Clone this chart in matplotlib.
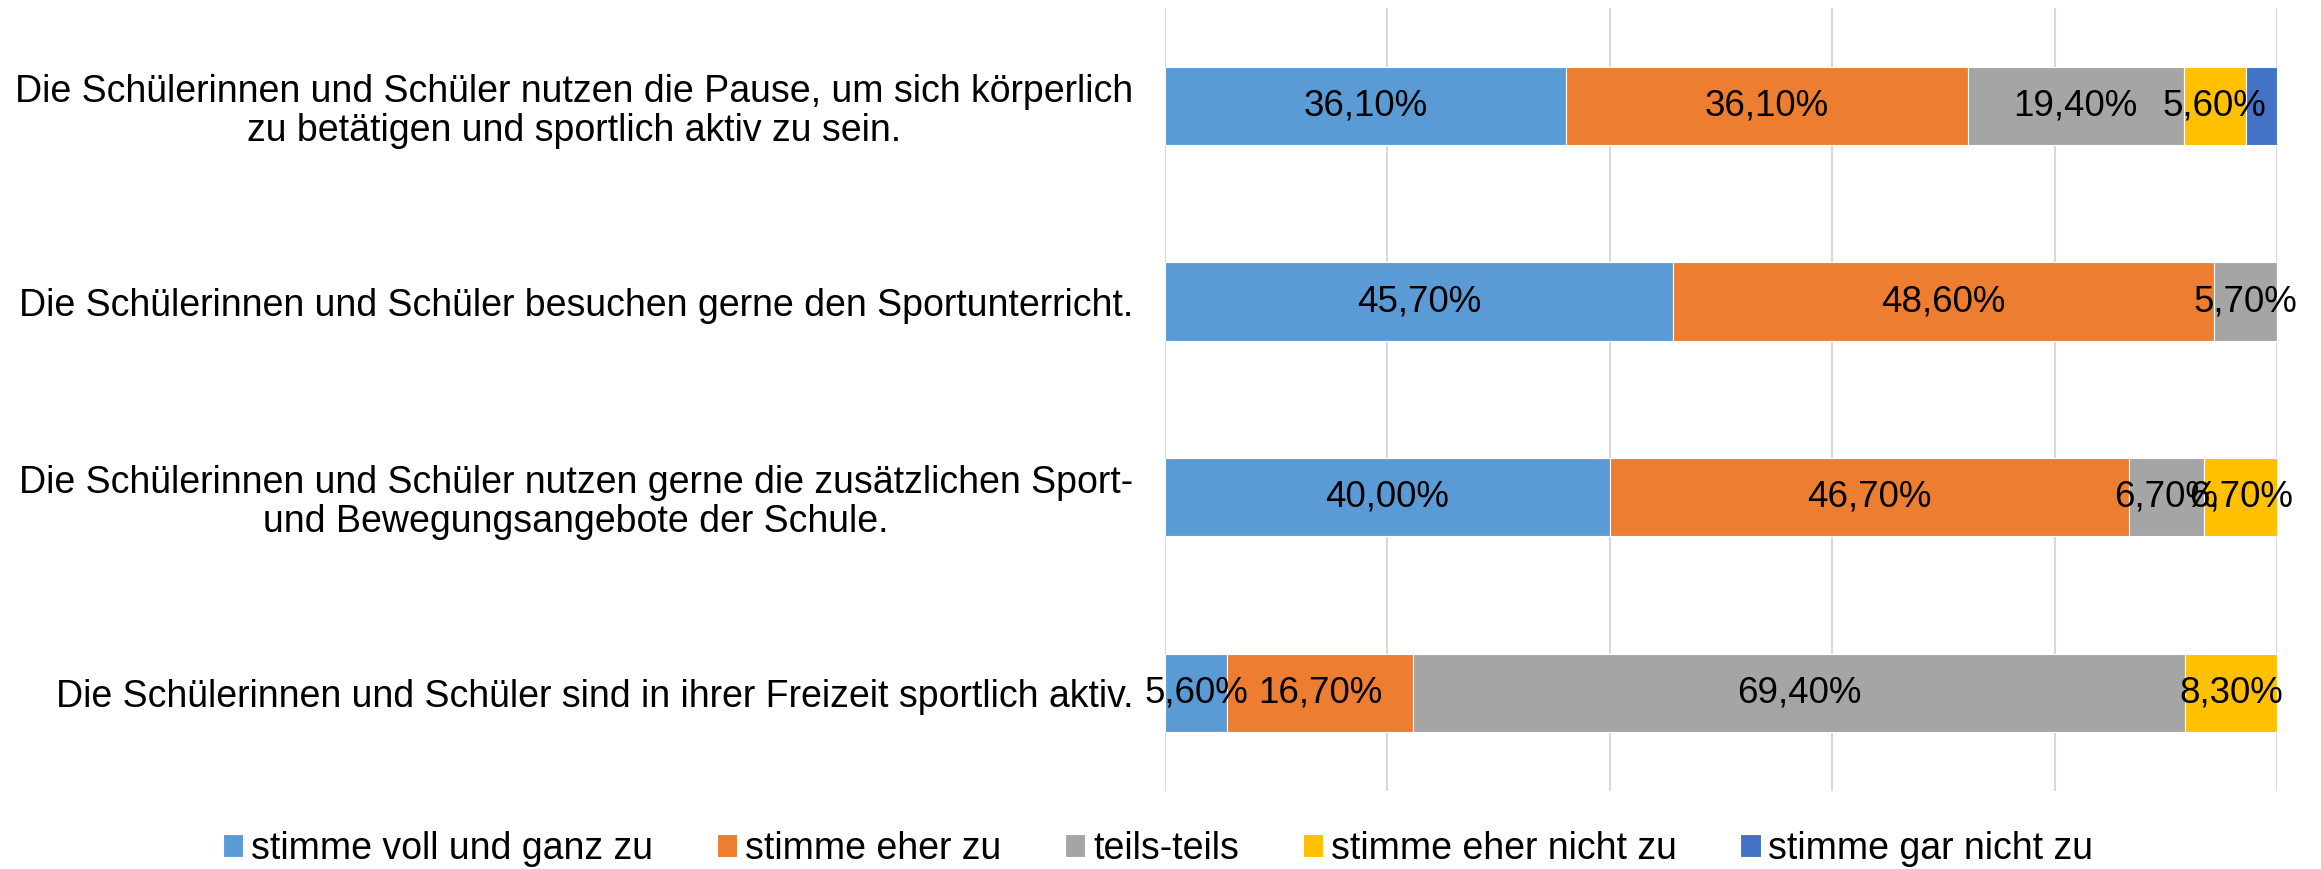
import numpy as np
import matplotlib.pyplot as plt

plt.rcParams['font.family'] = ['Liberation Sans', 'DejaVu Sans']

statements = [
    "Die Schülerinnen und Schüler nutzen die Pause, um sich körperlich\nzu betätigen und sportlich aktiv zu sein.",
    "Die Schülerinnen und Schüler besuchen gerne den Sportunterricht.",
    "Die Schülerinnen und Schüler nutzen gerne die zusätzlichen Sport-\nund Bewegungsangebote der Schule.",
    "Die Schülerinnen und Schüler sind in ihrer Freizeit sportlich aktiv.",
]
answers = ["stimme voll und ganz zu", "stimme eher zu", "teils-teils",
           "stimme eher nicht zu", "stimme gar nicht zu"]
voll = [36.1, 45.7, 40.0, 5.6]
eher = [36.1, 48.6, 46.7, 16.7]
teils = [19.4, 5.7, 6.7, 69.4]
eher_nicht = [5.6, 0.0, 6.7, 8.3]
gar_nicht = [2.8, 0.0, 0.0, 0.0]
colors = ["#5B9BD5", "#ED7D31", "#A5A5A5", "#FFC000", "#4472C4"]

series = [voll, eher, teils, eher_nicht, gar_nicht]

fig = plt.figure(figsize=(23.21, 8.69), dpi=100)
ax = fig.add_axes([0.502, 0.0898, 0.479, 0.901])

y = np.arange(len(statements))
left = np.zeros(len(statements))
for i, vals in enumerate(series):
    vals = np.array(vals)
    bars = ax.barh(y, vals, left=left, height=0.4, color=colors[i],
                   edgecolor='white', linewidth=0.8, label=answers[i], zorder=3)
    if i < 4:
        for b, v in zip(bars, vals):
            if v > 0:
                ax.text(b.get_x() + b.get_width() / 2, b.get_y() + b.get_height() / 2,
                        f"{v:.2f}%".replace('.', ','), ha='center', va='center',
                        fontsize=26.5, zorder=4)
    left += vals

ax.set_xlim(0, 100)
ax.set_ylim(3.5, -0.5)
ax.set_xticks([0, 20, 40, 60, 80, 100])
ax.set_xticklabels([])
ax.set_yticks(y)
ax.set_yticklabels(statements, fontsize=27, ha='right', multialignment='center',
                   linespacing=1.1)
ax.tick_params(axis='y', length=0, pad=23)
ax.tick_params(axis='x', length=0)
ax.grid(axis='x', color='#D9D9D9', linewidth=1.5, zorder=0)
for s in ax.spines.values():
    s.set_visible(False)

ax.legend(loc='center', bbox_to_anchor=(0.499, 0.023), bbox_transform=fig.transFigure,
          ncol=5, frameon=False, fontsize=27, handlelength=0.55, handleheight=0.55,
          handletextpad=0.2, columnspacing=1.7)

fig.savefig('out.png', dpi=100)
